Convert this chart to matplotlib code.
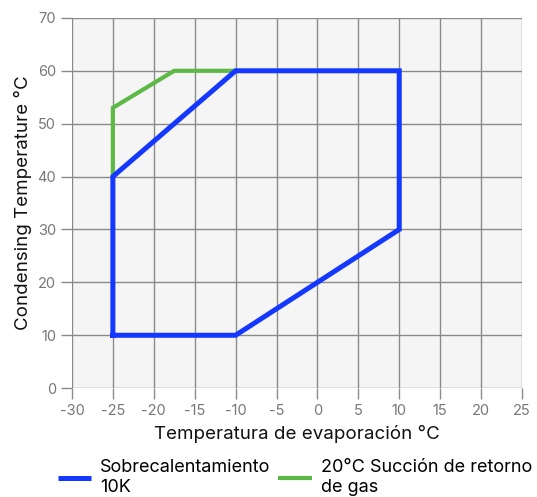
import matplotlib.pyplot as plt
from matplotlib.lines import Line2D

plt.rcParams['font.family'] = ['Inter', 'DejaVu Sans']
plt.rcParams['axes.unicode_minus'] = False

# envolvente con sobrecalentamiento 10K
evap_10k = [-25, -25, -10, 10, 10, -10, -25]
cond_10k = [10, 40, 60, 60, 30, 10, 10]

# envolvente con 20°C de gas de retorno
evap_20c = [-25, -25, -17.5, -10]
cond_20c = [40, 53, 60, 60]

xticks = list(range(-30, 30, 5))
yticks = list(range(0, 80, 10))

azul = '#1438ff'
verde = '#5cb946'

fig = plt.figure(figsize=(5.37, 4.97), dpi=100)
ax = fig.add_axes([0.134, 0.219, 0.838, 0.745])
ax.set_facecolor('#f5f5f5')

ax.plot(evap_20c, cond_20c, color=verde, lw=3.0, solid_joinstyle='miter', zorder=3)
ax.plot(evap_10k, cond_10k, color=azul, lw=3.6, solid_joinstyle='miter', zorder=4)

ax.set_xlim(-30, 25)
ax.set_ylim(0, 70)
ax.set_xticks(xticks)
ax.set_yticks(yticks)
ax.grid(True, color='#8a8a8a', lw=1.0)
ax.set_axisbelow(True)
for s in ax.spines.values():
    s.set_visible(False)
ax.tick_params(colors='#8a8a8a', labelcolor='#777777', labelsize=10.5, length=8, width=1.0)

ax.set_xlabel('Temperatura de evaporación °C', fontsize=13.5, color='#111111', labelpad=5)
ax.set_ylabel('Condensing Temperature °C', fontsize=13.5, color='#111111', labelpad=4)

handles = [Line2D([], [], color=azul, lw=3.6, solid_capstyle='butt'),
           Line2D([], [], color=verde, lw=3.0, solid_capstyle='butt')]
labels = ['Sobrecalentamiento\n10K', '20°C Succión de retorno\nde gas']
leg = fig.legend(handles, labels, loc='upper center', bbox_to_anchor=(0.549, 0.09), ncol=2,
                 frameon=False, fontsize=13, handlelength=1.85, columnspacing=0.45,
                 handletextpad=0.5, borderaxespad=0, labelspacing=0.2)
for t in leg.get_texts():
    t.set_linespacing(1.2)

fig.savefig('out.png', dpi=100)
